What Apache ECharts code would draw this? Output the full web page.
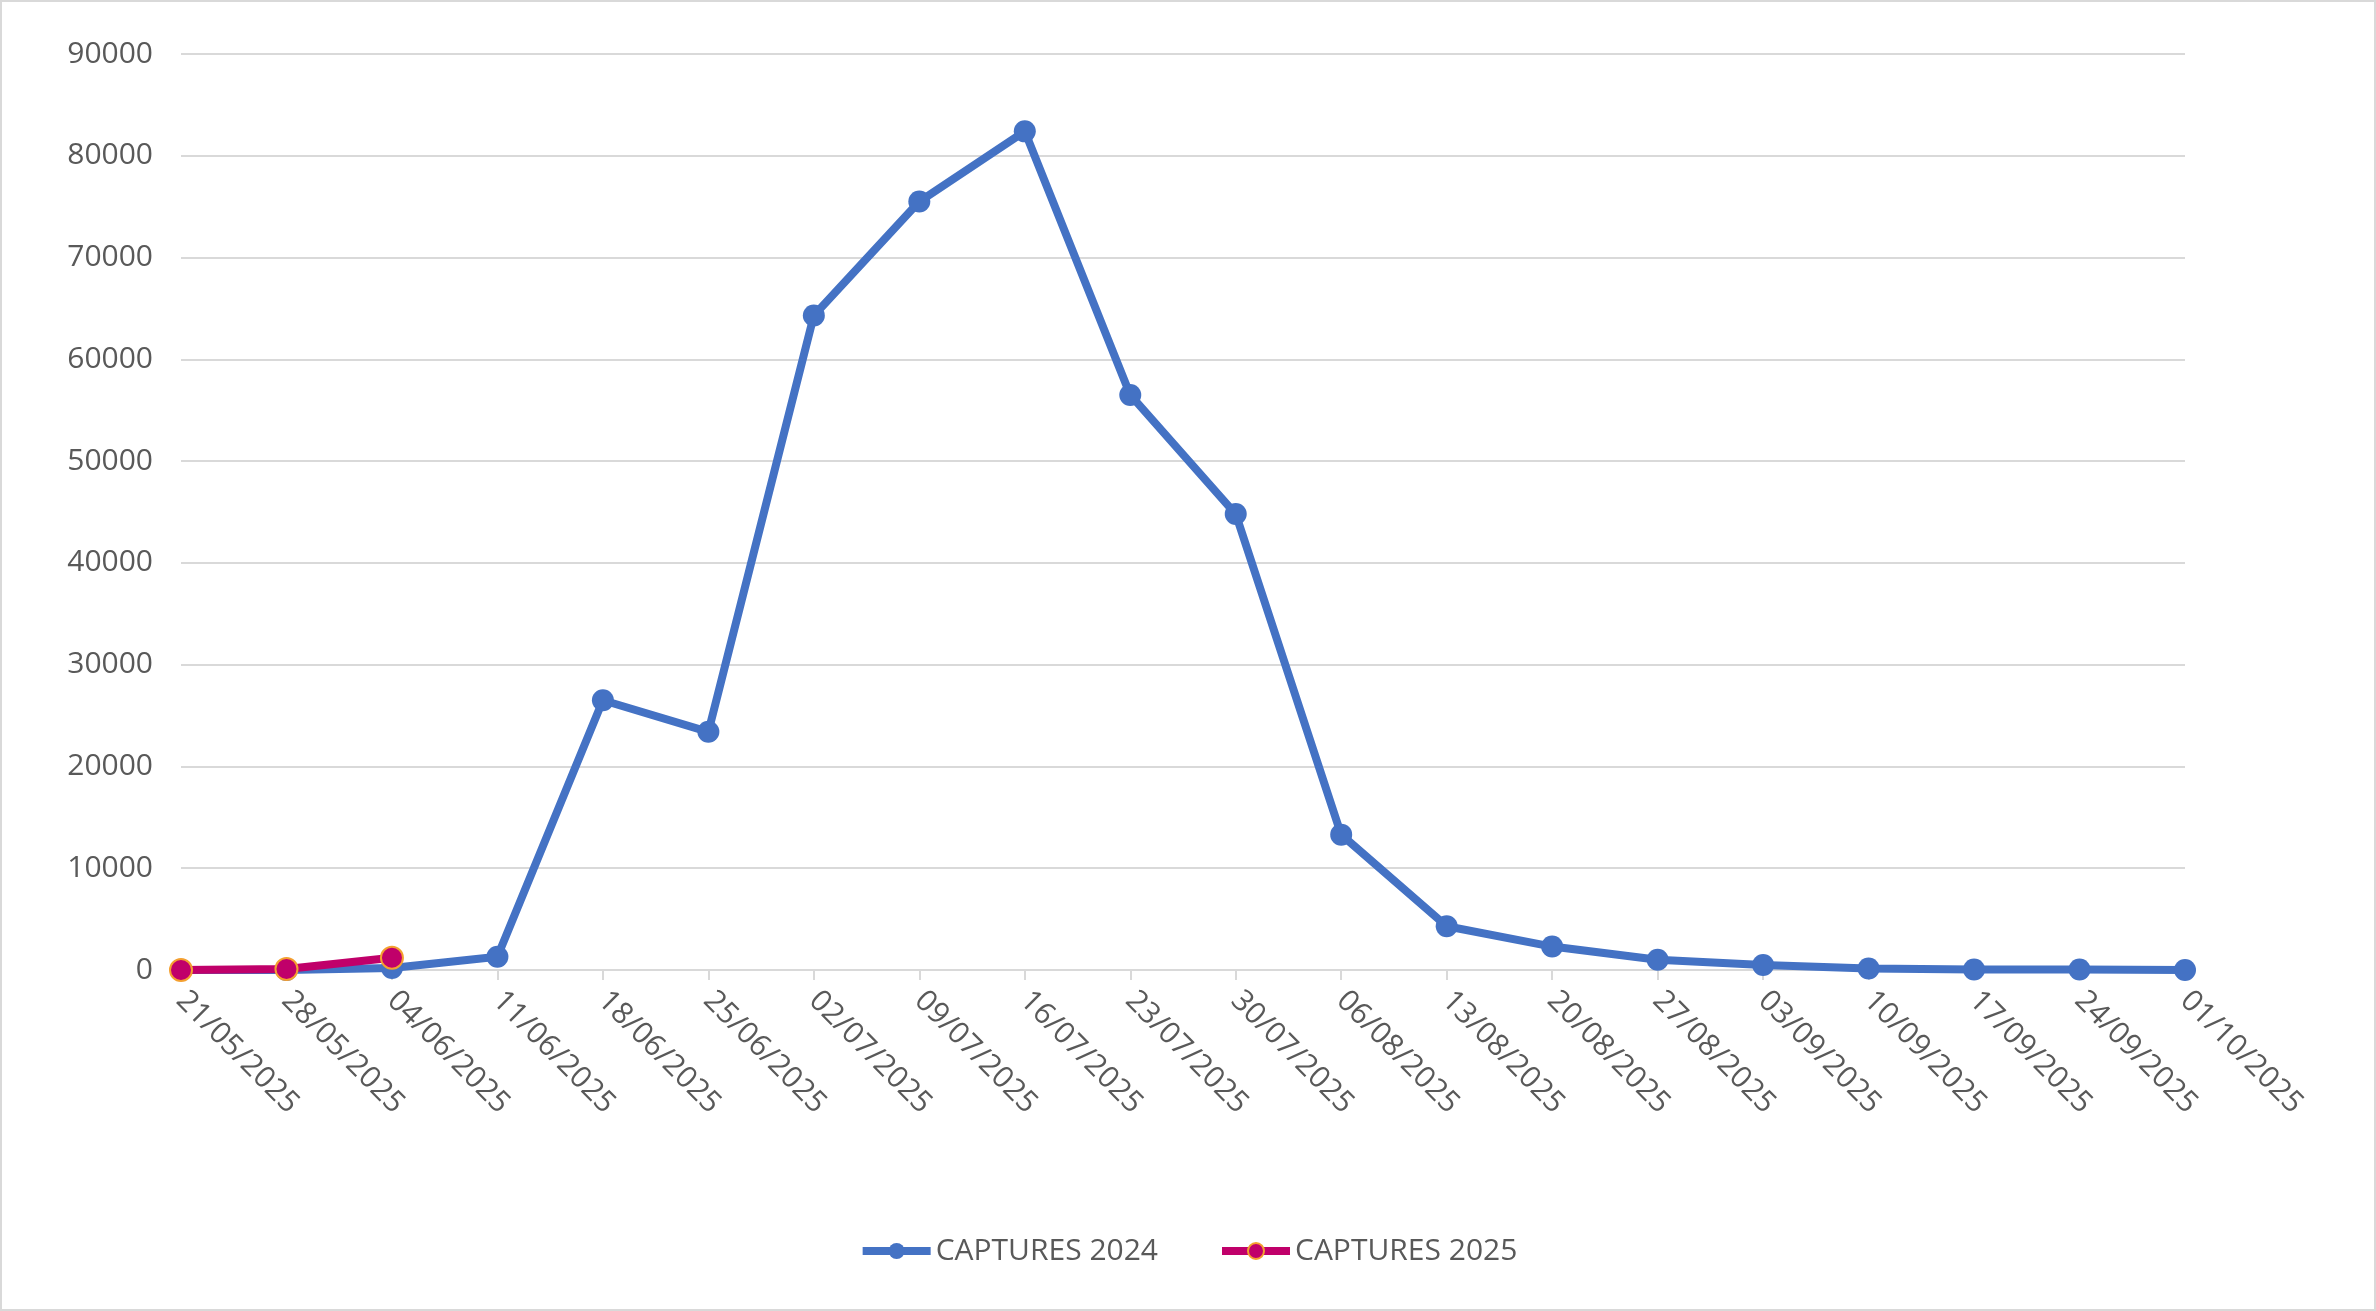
<!DOCTYPE html>
<html><head><meta charset="utf-8">
<script src="https://cdn.jsdelivr.net/npm/echarts@6/dist/echarts.min.js"></script>
<style>html,body{margin:0;padding:0;background:#fff}#c{width:2376px;height:1311px;box-sizing:border-box;border:2px solid #d9d9d9}</style>
</head><body><div id="c"></div>
<script>
const categories = ["21/05/2025","28/05/2025","04/06/2025","11/06/2025","18/06/2025","25/06/2025","02/07/2025","09/07/2025","16/07/2025","23/07/2025","30/07/2025","06/08/2025","13/08/2025","20/08/2025","27/08/2025","03/09/2025","10/09/2025","17/09/2025","24/09/2025","01/10/2025"];
const captures2024 = [0,0,200,1300,26500,23400,64300,75500,82400,56500,44800,13300,4300,2300,1000,500,150,50,50,0];
const captures2025 = [0,100,1200];
const chart = echarts.init(document.getElementById('c'));
const font = "'Open Sans', 'Liberation Sans', sans-serif";
chart.setOption({
  animation:false,
  grid:{left:179,right:189,top:52,bottom:339,containLabel:false},
  legend:{bottom:38,left:'center',itemWidth:68,itemHeight:20,itemGap:60,
    lineStyle:{width:8},
    textStyle:{fontFamily:font,fontSize:30,color:'#595959'},
    data:['CAPTURES 2024','CAPTURES 2025']},
  xAxis:{type:'category',data:categories,boundaryGap:false,
    axisLine:{lineStyle:{color:'#d9d9d9',width:2}},
    axisTick:{show:true,alignWithLabel:true,length:10,lineStyle:{color:'#d9d9d9',width:2}},
    axisLabel:{rotate:-45,interval:0,fontFamily:font,fontSize:30,color:'#595959',margin:26,align:'left'}},
  yAxis:{type:'value',min:0,max:90000,interval:10000,
    axisLine:{show:false},axisTick:{show:false},
    splitLine:{lineStyle:{color:'#d9d9d9',width:2}},
    axisLabel:{fontFamily:font,fontSize:30,color:'#595959',margin:28,formatter:v=>String(v)}},
  series:[
    {name:'CAPTURES 2024',type:'line',data:captures2024,symbol:'circle',symbolSize:22,
      lineStyle:{color:'#4472c4',width:8},itemStyle:{color:'#4472c4'}},
    {name:'CAPTURES 2025',type:'line',data:captures2025,symbol:'circle',symbolSize:22,
      lineStyle:{color:'#c0006a',width:8},itemStyle:{color:'#c0006a',borderColor:'#f4a030',borderWidth:2}}
  ]
});
</script></body></html>
